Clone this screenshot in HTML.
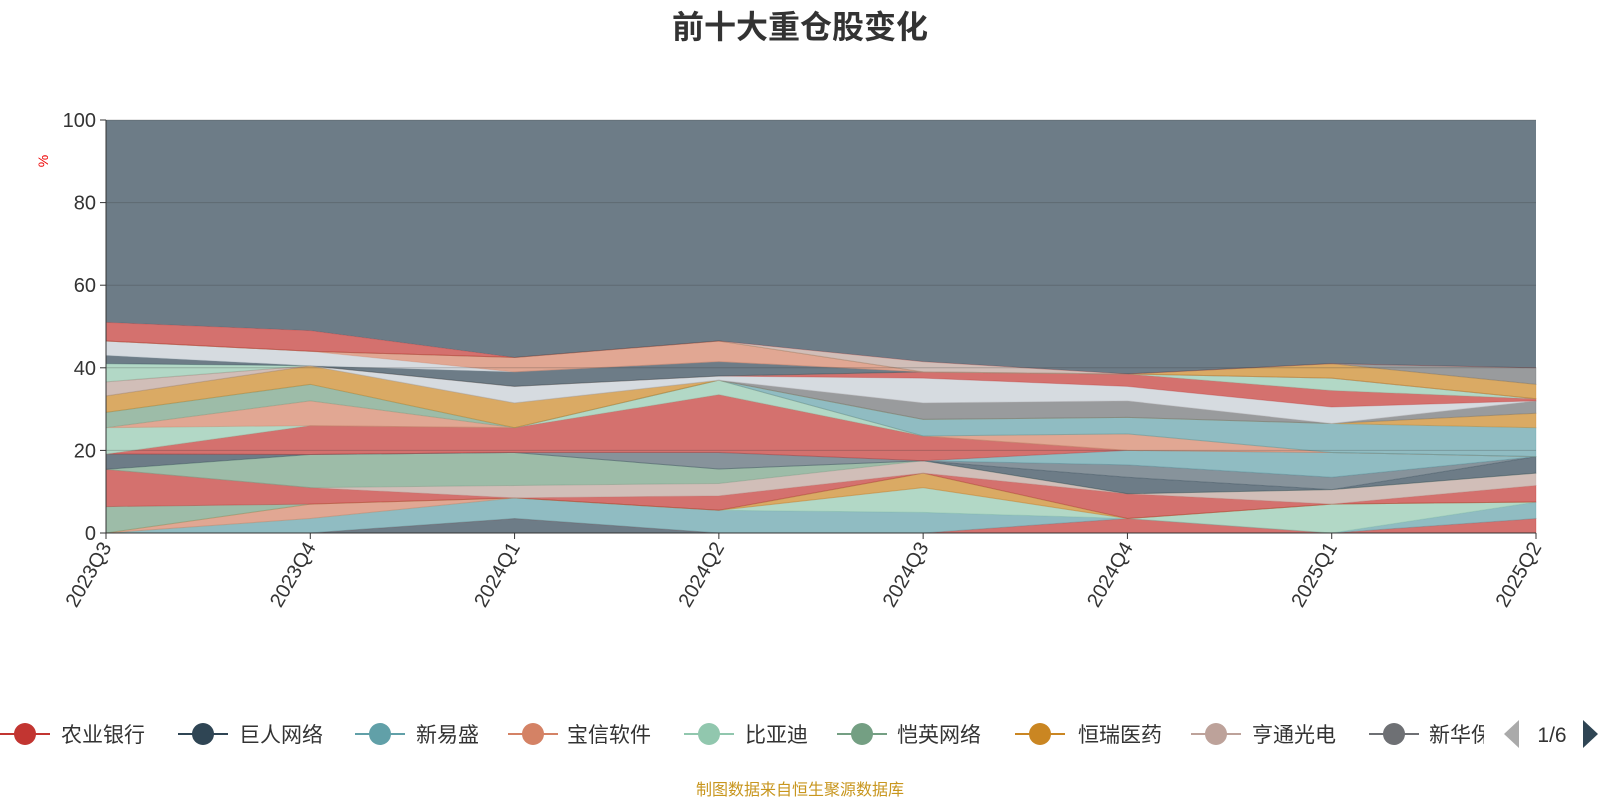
<!DOCTYPE html>
<html><head><meta charset="utf-8"><style>
body{margin:0;background:#fff;font-family:"Liberation Sans","Noto Sans CJK SC",sans-serif;}
svg text{font-family:"Liberation Sans","Noto Sans CJK SC",sans-serif;}
</style></head><body>
<svg id="chart" width="1600" height="800" xmlns="http://www.w3.org/2000/svg">
<text x="800" y="38" text-anchor="middle" font-size="32" font-weight="bold" fill="#333">前十大重仓股变化</text>
<text x="0" y="0" transform="translate(48,161) rotate(-90)" text-anchor="middle" font-size="14" fill="#e00">%</text>
<g id="areas"></g>
<g id="axes"></g>
<g id="legend"></g>
<text x="800" y="795" text-anchor="middle" font-size="16" fill="#c8961e">制图数据来自恒生聚源数据库</text>
</svg>
<script>
const categories=['2023Q3','2023Q4','2024Q1','2024Q2','2024Q3','2024Q4','2025Q1','2025Q2'];
const yTicks=[0,20,40,60,80,100];
const seriesColors=['#2f4554','#c23531','#61a0a8','#91c7ae','#d48265','#ca8622','#749f83','#c23531','#bda29a','#749f83','#2f4554','#546570','#61a0a8','#c23531','#91c7ae','#d48265','#749f83','#61a0a8','#ca8622','#6e7074','#bda29a','#c4ccd3','#c23531','#91c7ae','#2f4554','#c4ccd3','#d48265','#ca8622','#6e7074','#bda29a','#c23531'];
const s01=[0,0,3.5,0,0,0,0,0];
const s02=[0,0,0,0,0,3.5,0,3.5];
const s03=[0,3.5,5,5.5,5,0,0,4];
const s04=[0,0,0,0,6,0,7,0];
const s05=[0,3.5,0,0,0,0,0,0];
const s06=[0,0,0,0,3.5,0,0,0];
const s07=[6.4,0,0,0,0,0,0,0];
const s08=[9,4,0,3.5,0,6,0,4];
const s09=[0,0,3,3,3,0,3.5,3];
const s10=[0,8,8,3.5,0,0,0,0];
const s11=[3.7,0,0,0,0,4,0,4];
const s12=[0,0,0,4,0,3,3,0];
const s13=[0,0,0,0,0,3.5,6,0];
const s14=[0,7,6,14,6,0,0,0];
const s15=[6.4,0,0,3.5,0,0,0,0];
const s16=[0,6,0,0,0,4,0,0];
const s17=[3.7,4,0,0,0,0,0,0];
const s18=[0,0,0,0,4,4,7,7];
const s19=[4,4.5,6,0,0,0,0,3.5];
const s20=[0,0,0,0,4,4,0,3];
const s21=[3.4,0,0,0,0,0,0,0];
const s22=[0,0,4,1,6,3.5,4,0];
const s23=[0,0,0,0,1.5,3,4,0.5];
const s24=[4.4,0,0,0,0,0,3,0];
const s25=[2,0,3.5,3.5,0,0,0,0];
const s26=[3.5,3.5,0,0,0,0,0,0];
const s27=[0,0,3.5,5,0,0,0,0];
const s28=[0,0,0,0,0,0,3.5,3.5];
const s29=[0,0,0,0,0,0,0,4];
const s30=[0,0,0,0,2.5,0,0,0];
const s31=[4.5,5,0,0,0,0,0,0];
const legendNames=['农业银行','巨人网络','新易盛','宝信软件','比亚迪','恺英网络','恒瑞医药','亨通光电','新华保险'];
const legendColors=['#c23531','#2f4554','#61a0a8','#d48265','#91c7ae','#749f83','#ca8622','#bda29a','#6e7074'];
const series=[s01,s02,s03,s04,s05,s06,s07,s08,s09,s10,s11,s12,s13,s14,s15,s16,s17,s18,s19,s20,s21,s22,s23,s24,s25,s26,s27,s28,s29,s30,s31];
const NS='http://www.w3.org/2000/svg';
const X0=106,X1=1536,Y0=533,Y1=120;
const xs=i=>X0+(X1-X0)*i/(categories.length-1);
function yy(v){return Y0-(Y0-Y1)*v/100;}
function mk(t,a,p){const e=document.createElementNS(NS,t);for(const k in a)e.setAttribute(k,a[k]);p.appendChild(e);return e;}
const areas=document.getElementById('areas');
let base=categories.map(()=>0);
series.forEach((s,si)=>{
  const top=base.map((b,i)=>b+s[i]);
  let d='M'+top.map((v,i)=>xs(i)+','+yy(v)).join('L');
  for(let i=categories.length-1;i>=0;i--)d+='L'+xs(i)+','+yy(base[i]);
  const p=mk('path',{d:d+'Z',fill:seriesColors[si],'fill-opacity':0.7,stroke:seriesColors[si],'stroke-opacity':0.3,'stroke-width':1},areas);
  
  
  base=top;
});
{
  let d='M'+categories.map((c,i)=>xs(i)+','+yy(100)).join('L');
  for(let i=categories.length-1;i>=0;i--)d+='L'+xs(i)+','+yy(base[i]);
  const p=mk('path',{d:d+'Z',fill:'#2f4554','fill-opacity':0.7},areas);
  
  
}
const axes=document.getElementById('axes');
yTicks.forEach(t=>{
  if(t>0){const g=mk('line',{x1:X0,x2:X1,y1:yy(t),y2:yy(t),stroke:'#333','stroke-opacity':0.25,'stroke-width':1},axes);
  }
  const tk=mk('line',{x1:X0-6,x2:X0,y1:yy(t),y2:yy(t),stroke:'#333'},axes);
  
  const l=mk('text',{x:X0-10,y:yy(t)+7,'text-anchor':'end','font-size':20,fill:'#333'},axes);
  l.textContent=t;
  
});
const ya=mk('line',{x1:X0,x2:X0,y1:Y1,y2:Y0,stroke:'#333'},axes);

const xa=mk('line',{x1:X0,x2:X1,y1:Y0,y2:Y0,stroke:'#333'},axes);

categories.forEach((c,i)=>{
  const tk=mk('line',{x1:xs(i),x2:xs(i),y1:Y0,y2:Y0+6,stroke:'#333'},axes);
  
  const l=mk('text',{x:0,y:0,transform:'translate('+(xs(i)+6)+','+(Y0+14)+') rotate(-60)','text-anchor':'end','font-size':20,fill:'#333'},axes);
  l.textContent=c;
  
});
const lg=document.getElementById('legend');
const iconX=[25,203,380,533,709,862,1040,1216,1394];
const textX=[61,239,416,567,745,897,1078,1252,1429];
const LY=734;
legendNames.forEach((n,i)=>{
  const g=mk('g',{},lg);
  
  
  mk('line',{x1:iconX[i]-25,x2:iconX[i]+25,y1:LY,y2:LY,stroke:legendColors[i],'stroke-width':2},g);
  mk('circle',{cx:iconX[i],cy:LY,r:11,fill:legendColors[i]},g);
  const t=mk('text',{x:textX[i],y:LY+8,'font-size':21,fill:'#333'},g);
  t.textContent=n;
});
const cover=mk('rect',{x:1484,y:712,width:116,height:44,fill:'#fff'},lg);

const pl=mk('path',{d:'M1519,720 L1519,748 L1504,734 Z',fill:'#aaa'},lg);

const pt=mk('text',{x:1552,y:742,'text-anchor':'middle','font-size':21,fill:'#333'},lg);
pt.textContent='1/6';

const pr=mk('path',{d:'M1583,720 L1583,748 L1598,734 Z',fill:'#2f4554'},lg);

</script>
</body></html>
